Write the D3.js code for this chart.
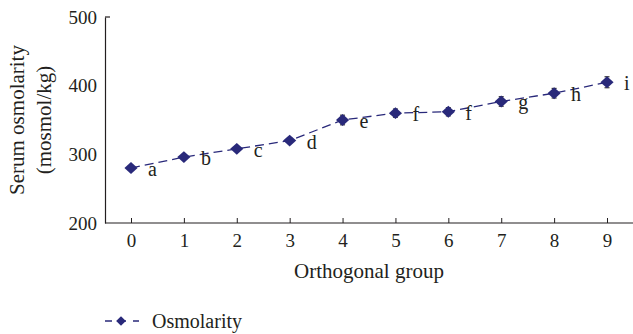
<!DOCTYPE html>
<html>
<head>
<meta charset="utf-8">
<script src="https://cdn.jsdelivr.net/npm/d3@7"></script>
<style>
  html, body { margin: 0; padding: 0; background: #fff; }
  svg { display: block; }
  text { font-family: "Liberation Serif", "DejaVu Serif", serif; fill: #231f20; }
</style>
</head>
<body>
<svg id="chart" width="633" height="334"></svg>
<script>
// Serum osmolarity by orthogonal group (mean ± SD) with significance letters
const groups = [0, 1, 2, 3, 4, 5, 6, 7, 8, 9];
const osmolarity = [280, 296, 308, 320, 350, 360, 362, 377, 389, 405];
const errors = [2, 3, 3, 4, 7, 6, 6, 7, 7, 8];
const letters = ["a", "b", "c", "d", "e", "f", "f", "g", "h", "i"];
const yTicks = [200, 300, 400, 500];
const seriesName = "Osmolarity";

const navy = "#29297a";
const ink = "#231f20";

const svg = d3.select("#chart");
const plot = { left: 105, right: 633, top: 17, bottom: 223 };

const x = d3.scaleLinear().domain([0, 9]).range([131, 607]);
const y = d3.scaleLinear().domain([200, 500]).range([plot.bottom, plot.top]);

// Y axis: bare line with tick labels, small cap at the top
const yAxis = svg.append("g")
  .attr("transform", `translate(${plot.left},0)`)
  .call(d3.axisLeft(y).tickValues(yTicks).tickSize(0).tickPadding(8));
yAxis.select(".domain").attr("stroke", ink).attr("stroke-width", 1.2);
yAxis.selectAll("text").style("font-size", "19px").style("font-family", "Liberation Serif, serif").attr("fill", ink);
svg.append("line")
  .attr("x1", plot.left).attr("x2", plot.left + 5)
  .attr("y1", y(500)).attr("y2", y(500))
  .attr("stroke", ink).attr("stroke-width", 1.2);

// X axis with inward ticks
const xAxis = svg.append("g")
  .attr("transform", `translate(0,${plot.bottom})`)
  .call(d3.axisBottom(x).tickValues(groups).tickFormat(d3.format("d")).tickSize(0).tickPadding(11));
xAxis.select(".domain").attr("d", `M${plot.left},0H${plot.right}`).attr("stroke", ink).attr("stroke-width", 1.2);
xAxis.selectAll("text").style("font-size", "19px").style("font-family", "Liberation Serif, serif").attr("fill", ink);
xAxis.selectAll(".tick").append("line")
  .attr("y1", 0).attr("y2", -5)
  .attr("stroke", ink).attr("stroke-width", 1);

// Axis titles
svg.append("text")
  .attr("x", (plot.left + plot.right) / 2)
  .attr("y", 278)
  .attr("text-anchor", "middle")
  .style("font-size", "21px")
  .text("Orthogonal group");

const yTitle = svg.append("text")
  .attr("transform", `translate(0,${(plot.top + plot.bottom) / 2}) rotate(-90)`)
  .attr("text-anchor", "middle")
  .style("font-size", "21px");
yTitle.append("tspan").attr("x", 0).attr("y", 24).text("Serum osmolarity");
yTitle.append("tspan").attr("x", 0).attr("y", 51).text("(mosmol/kg)");

const data = groups.map((g, i) => ({ g, v: osmolarity[i], e: errors[i], l: letters[i] }));

// Dashed series line
svg.append("path")
  .datum(data)
  .attr("fill", "none")
  .attr("stroke", navy)
  .attr("stroke-width", 1.3)
  .attr("stroke-dasharray", "9,5")
  .attr("d", d3.line().x(d => x(d.g)).y(d => y(d.v)));

// Error bars
const eb = svg.append("g").attr("stroke", "#3a3a3a").attr("stroke-width", 1.2);
eb.selectAll("line.v").data(data).join("line")
  .attr("x1", d => x(d.g)).attr("x2", d => x(d.g))
  .attr("y1", d => y(d.v - d.e)).attr("y2", d => y(d.v + d.e));
eb.selectAll("line.t").data(data).join("line")
  .attr("x1", d => x(d.g) - 2.5).attr("x2", d => x(d.g) + 2.5)
  .attr("y1", d => y(d.v + d.e)).attr("y2", d => y(d.v + d.e));
eb.selectAll("line.b").data(data).join("line")
  .attr("x1", d => x(d.g) - 2.5).attr("x2", d => x(d.g) + 2.5)
  .attr("y1", d => y(d.v - d.e)).attr("y2", d => y(d.v - d.e));

// Diamond markers
const diamond = d3.symbol().type(d3.symbolDiamond2).size(100);
svg.append("g").selectAll("path").data(data).join("path")
  .attr("transform", d => `translate(${x(d.g)},${y(d.v)}) scale(1.05,0.95)`)
  .attr("d", diamond)
  .attr("fill", navy);

// Significance letters
svg.append("g").selectAll("text").data(data).join("text")
  .attr("x", d => x(d.g) + 17)
  .attr("y", d => y(d.v) + 8)
  .style("font-size", "20px")
  .text(d => d.l);

// Legend
const lg = svg.append("g").attr("transform", "translate(105,321)");
lg.append("line").attr("x1", 0).attr("x2", 34).attr("y1", 0).attr("y2", 0)
  .attr("stroke", navy).attr("stroke-width", 1.3).attr("stroke-dasharray", "7,7");
lg.append("path").attr("transform", "translate(16,0)")
  .attr("d", d3.symbol().type(d3.symbolDiamond2).size(60)).attr("fill", navy);
lg.append("text").attr("x", 47).attr("y", 7).style("font-size", "20px").text(seriesName);
</script>
</body>
</html>
